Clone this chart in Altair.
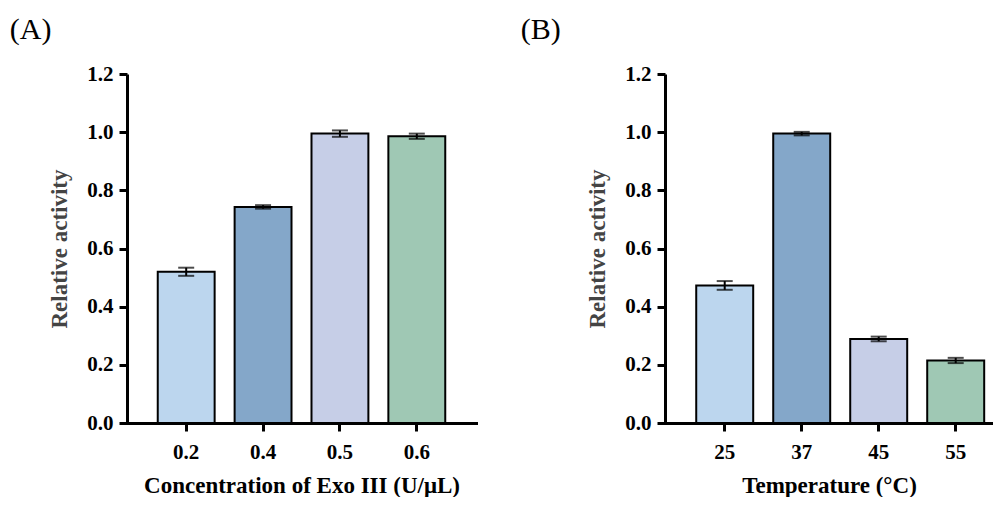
import altair as alt
import pandas as pd

# Panel A
conc_labels = ["0.2", "0.4", "0.5", "0.6"]
conc_values = [0.520, 0.743, 0.995, 0.986]
conc_errors = [0.014, 0.006, 0.011, 0.009]

# Panel B
temp_labels = ["25", "37", "45", "55"]
temp_values = [0.473, 0.995, 0.289, 0.215]
temp_errors = [0.015, 0.006, 0.008, 0.009]

bar_colors = ["#BCD6EE", "#84A7C9", "#C6CEE7", "#9FC8B4"]

FONT = "Liberation Serif"


def panel(labels, values, errors, xtitle, tag, tag_dx, width, pad_outer, align):
    df = pd.DataFrame({
        "cat": labels,
        "val": values,
        "lo": [v - e for v, e in zip(values, errors)],
        "hi": [v + e for v, e in zip(values, errors)],
    })
    xscale = alt.Scale(paddingInner=0.26, paddingOuter=pad_outer, align=align)
    x = alt.X(
        "cat:N",
        sort=labels,
        title=xtitle,
        scale=xscale,
        axis=alt.Axis(labelAngle=0, labelPadding=10, titlePadding=12,
                      titleFontSize=23, titleColor="black"),
    )
    yscale = alt.Scale(domain=[0, 1.2], nice=False)
    bars = alt.Chart(df).mark_bar(stroke="black", strokeWidth=2).encode(
        x=x,
        y=alt.Y("val:Q", scale=yscale, title="Relative activity",
                axis=alt.Axis(values=[0, 0.2, 0.4, 0.6, 0.8, 1.0, 1.2], format=".1f",
                              labelPadding=6, titlePadding=15,
                              titleFontSize=23, titleColor="#444444")),
        color=alt.Color("cat:N", sort=labels,
                        scale=alt.Scale(domain=labels, range=bar_colors), legend=None),
    )
    rule = alt.Chart(df).mark_rule(color="black", strokeWidth=2).encode(
        x=alt.X("cat:N", sort=labels), y="lo:Q", y2="hi:Q")
    cap_lo = alt.Chart(df).mark_tick(color="black", thickness=2, size=16, orient="horizontal").encode(
        x=alt.X("cat:N", sort=labels), y="lo:Q")
    cap_hi = alt.Chart(df).mark_tick(color="black", thickness=2, size=16, orient="horizontal").encode(
        x=alt.X("cat:N", sort=labels), y="hi:Q")
    return alt.layer(bars, rule, cap_lo, cap_hi).properties(
        width=width, height=349,
        title=alt.TitleParams(tag, anchor="start", font=FONT, fontSize=30,
                              fontWeight="normal", color="black", dx=tag_dx, offset=18),
    )


a = panel(conc_labels, conc_values, conc_errors, "Concentration of Exo III (U/μL)", "(A)", -39,
          349, 0.4, 0.5)
b = panel(temp_labels, temp_values, temp_errors, "Temperature (°C)", "(B)", -66,
          328, 0.26, 0.78)

chart = alt.hconcat(a, b, spacing=44).properties(
    padding={"left": 1, "top": 7, "right": 0, "bottom": 0}
).configure_view(stroke=None).configure_axis(
    domainColor="black", domainWidth=3, tickColor="black", tickWidth=3, tickSize=8,
    labelFont=FONT, labelFontWeight="bold", labelFontSize=21, labelColor="black",
    titleFont=FONT, titleFontWeight="bold", grid=False,
).configure_axisX(domainCap="square")

chart.save("out.html", embed_options={"renderer": "svg", "actions": False})
